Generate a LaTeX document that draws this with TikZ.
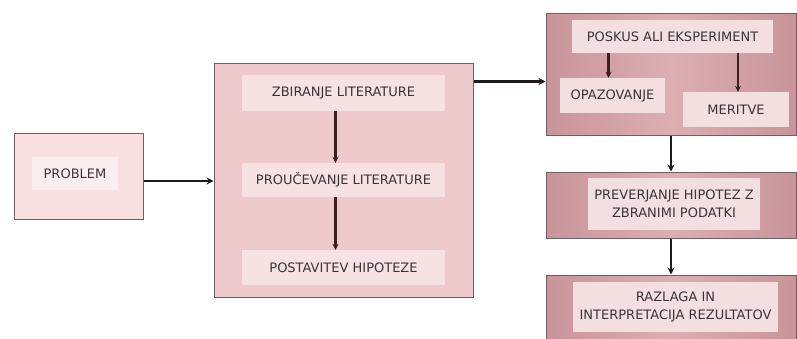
\documentclass[tikz,border=0pt]{standalone}
\usepackage{fontspec}
\setmainfont{DejaVu Sans}
\usepackage{tikz}
\usetikzlibrary{positioning,arrows.meta,calc}
\definecolor{pink1}{HTML}{F8E0E0}
\definecolor{pink2}{HTML}{FBEEEE}
\definecolor{rose1}{HTML}{EEC9CC}
\definecolor{rose2}{HTML}{F6E2E3}
\definecolor{mauve1}{HTML}{DCAEB3}
\definecolor{mauve2}{HTML}{C8949A}
\definecolor{mauve3}{HTML}{F3DEE0}
\definecolor{edge1}{HTML}{6E6062}
\definecolor{ink1}{HTML}{3C3436}
\definecolor{arrow1}{HTML}{1E1A1A}
\definecolor{arrow2}{HTML}{3A1E20}

\begin{document}
\begin{tikzpicture}[
    x=1pt, y=-1pt,
    >=Stealth,
    outer/.style={draw=edge1, line width=1pt, inner sep=0pt},
    inner/.style={inner sep=0pt, font=\fontsize{13}{18}\selectfont,
                  text=ink1, align=center},
    link/.style={->, line width=2.4pt, color=arrow1,
                 >={Stealth[length=7pt,width=7pt]}},
    sublink/.style={->, line width=2.2pt, color=arrow2,
                    >={Stealth[length=6pt,width=6pt]}},
]
\useasboundingbox[fill=white] (0,0) rectangle (797,338);

% ── Problem ──
\node[outer, fill=pink1, minimum width=129pt, minimum height=86pt]
    (problem) at (78.5,176) {};
\node[inner, fill=pink2, minimum width=86pt, minimum height=33pt]
    (problemlbl) at (75,173.5) {PROBLEM};

% ── Literature ──
\node[outer, fill=rose1, minimum width=259pt, minimum height=234pt]
    (lit) at (343.5,180) {};
\node[inner, fill=rose2, minimum width=203pt, minimum height=36pt]
    (zbir) at (343.5,93) {ZBIRANJE LITERATURE};
\node[inner, fill=rose2, minimum width=203pt, minimum height=34pt]
    (prouc) at (343.5,180) {PROUČEVANJE LITERATURE};
\node[inner, fill=rose2, minimum width=203pt, minimum height=35pt]
    (postav) at (343.5,267.5) {POSTAVITEV HIPOTEZE};

% ── Experiment ──
\node[outer, left color=mauve2, right color=mauve2, middle color=mauve1,
      minimum width=250pt, minimum height=122pt] (exp) at (671,74) {};
\node[inner, fill=mauve3, minimum width=201pt, minimum height=33pt]
    (poskus) at (672.5,36.5) {POSKUS ALI EKSPERIMENT};
\node[inner, fill=mauve3, minimum width=105pt, minimum height=35pt]
    (opaz) at (612.5,95.5) {OPAZOVANJE};
\node[inner, fill=mauve3, minimum width=106pt, minimum height=35pt]
    (merit) at (736,109.5) {MERITVE};

% ── Checking ──
\node[outer, left color=mauve2, right color=mauve2, middle color=mauve1,
      minimum width=250pt, minimum height=66pt] (prev) at (671,205) {};
\node[inner, fill=mauve3, minimum width=172pt, minimum height=52pt]
    (prevlbl) at (674,204) {PREVERJANJE HIPOTEZ Z\\ZBRANIMI PODATKI};

% ── Interpretation ──
\node[outer, left color=mauve2, right color=mauve2, middle color=mauve1,
      minimum width=250pt, minimum height=64pt] (razl) at (671,307) {};
\node[inner, fill=mauve3, minimum width=205pt, minimum height=50pt]
    (razllbl) at (675.5,307) {RAZLAGA IN\\INTERPRETACIJA REZULTATOV};

% ── Main flow ──
\draw[link] ([yshift=-5pt]problem.east) -- ([yshift=-5pt]problem.east -| lit.west);
\draw[link] ([yshift=-19pt]lit.north east) -- ([yshift=-19pt]lit.north east -| exp.west);
\draw[link] (exp.south) -- (prev.north);
\draw[link] (prev.south) -- (razl.north);

% ── Inner flow ──
\draw[sublink] ([xshift=-8pt]zbir.south) -- ([xshift=-8pt]prouc.north);
\draw[sublink] ([xshift=-8pt]prouc.south) -- ([xshift=-8pt]postav.north);
\draw[sublink] ([xshift=-4pt]poskus.south -| opaz.north) -- ([xshift=-4pt]opaz.north);
\draw[sublink] ([xshift=2pt]poskus.south -| merit.north) -- ([xshift=2pt]merit.north);

\end{tikzpicture}
\end{document}
